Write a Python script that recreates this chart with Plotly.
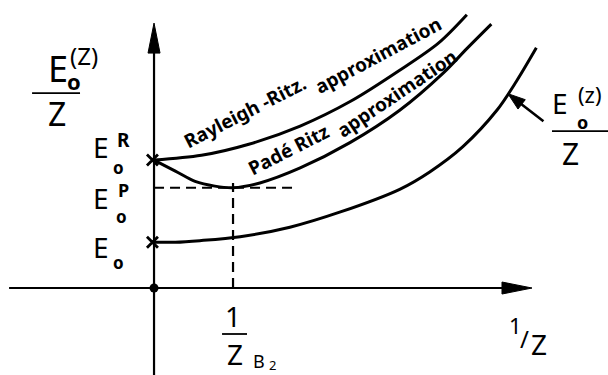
import plotly.graph_objects as go

# ---- schematic data: E/Z against 1/Z (one unit on 1/Z = 1/Z_B2) ----
inv_z_rr = [0.0, 0.6, 1.2, 1.85, 2.5, 3.1, 3.6, 3.96]
e_rr = [1.62, 1.68, 1.82, 2.05, 2.37, 2.75, 3.10, 3.46]

inv_z_pade = [0.0, 0.27, 0.52, 0.77, 1.0, 1.34, 1.85, 2.48, 3.11, 3.66, 3.96, 4.27]
e_pade = [1.62, 1.48, 1.35, 1.29, 1.27, 1.33, 1.52, 1.84, 2.25, 2.72, 3.03, 3.34]

inv_z_exact = [0.0, 0.27, 0.58, 1.09, 1.72, 2.35, 3.11, 3.49, 3.91, 4.34, 4.59, 4.84]
e_exact = [0.58, 0.58, 0.60, 0.65, 0.77, 0.96, 1.25, 1.47, 1.79, 2.25, 2.62, 3.04]

E_R = 1.62      # Rayleigh-Ritz value at 1/Z = 0
E_P = 1.27      # Pade-Ritz minimum
E_0 = 0.58      # exact limit
INV_ZB2 = 1.0   # position of the Pade minimum

X_RANGE = [-1.95, 5.747]
Y_RANGE = [-1.101, 3.646]
X_TIP = 4.785   # end of the 1/Z axis arrow
Y_TIP = 3.354   # end of the E/Z axis arrow
X_START = -1.835

FONT = "Noto Sans"
INK = "black"

fig = go.Figure()

curve_style = dict(mode="lines", line=dict(color=INK, width=3, shape="spline", smoothing=0.9),
                   hoverinfo="skip", showlegend=False)
fig.add_trace(go.Scatter(x=inv_z_rr, y=e_rr, name="Rayleigh-Ritz", **curve_style))
fig.add_trace(go.Scatter(x=inv_z_pade, y=e_pade, name="Padé Ritz", **curve_style))
fig.add_trace(go.Scatter(x=inv_z_exact, y=e_exact, name="E0(Z)/Z", **curve_style))

# axes drawn as plain lines
fig.add_shape(type="line", x0=X_START, y0=0, x1=X_TIP - 0.1, y1=0, line=dict(color=INK, width=2.2))
fig.add_shape(type="line", x0=0, y0=Y_RANGE[0], x1=0, y1=Y_TIP - 0.1, line=dict(color=INK, width=2.2))

# dashed guides to the Pade minimum
dash = "10px,6px"
fig.add_shape(type="line", x0=0, y0=E_P, x1=1.75, y1=E_P, line=dict(color=INK, width=2, dash=dash))
fig.add_shape(type="line", x0=INV_ZB2, y0=0, x1=INV_ZB2, y1=E_P + 0.06, line=dict(color=INK, width=2.2, dash=dash))


def arrow_head(tip_x, tip_y, dir_x, dir_y, length, half_width):
    """Filled triangular arrow head in data units."""
    norm = (dir_x ** 2 + dir_y ** 2) ** 0.5
    ux, uy = dir_x / norm, dir_y / norm
    bx, by = tip_x - ux * length, tip_y - uy * length
    px, py = -uy * half_width, ux * half_width
    fig.add_trace(go.Scatter(
        x=[tip_x, bx + px, bx - px, tip_x], y=[tip_y, by + py, by - py, tip_y],
        mode="lines", fill="toself", fillcolor=INK, line=dict(color=INK, width=1),
        hoverinfo="skip", showlegend=False))


arrow_head(X_TIP, 0, 1, 0, 0.38, 0.076)
arrow_head(0, Y_TIP, 0, 1, 0.38, 0.076)

# pointer to the exact curve
ptr_tail = (4.93, 2.11)
ptr_tip = (4.48, 2.46)
fig.add_shape(type="line", x0=ptr_tail[0], y0=ptr_tail[1],
              x1=ptr_tip[0] + (ptr_tail[0] - ptr_tip[0]) * 0.3,
              y1=ptr_tip[1] + (ptr_tail[1] - ptr_tip[1]) * 0.3,
              line=dict(color=INK, width=2.6))
arrow_head(ptr_tip[0], ptr_tip[1], ptr_tip[0] - ptr_tail[0], ptr_tip[1] - ptr_tail[1], 0.22, 0.075)

# crosses at the intercepts and the origin dot
fig.add_trace(go.Scatter(x=[-0.02, -0.02], y=[E_R, E_0], mode="markers",
                         marker=dict(symbol="x-thin", size=11, line=dict(color=INK, width=2.8)),
                         hoverinfo="skip", showlegend=False))
fig.add_trace(go.Scatter(x=[0], y=[0], mode="markers",
                         marker=dict(symbol="circle", size=9, color=INK),
                         hoverinfo="skip", showlegend=False))


def label(text, x, y, size, angle=0, bold=False):
    if bold:
        text = "<b>" + text + "</b>"
    fig.add_annotation(x=x, y=y, xref="x", yref="y", text=text, showarrow=False,
                       textangle=angle, xanchor="center", yanchor="middle",
                       font=dict(family=FONT, size=size, color=INK))


def frac_bar(x0, x1, y):
    fig.add_shape(type="line", x0=x0, y0=y, x1=x1, y1=y, line=dict(color=INK, width=1.8))


# vertical axis title  E_o^(Z) / Z
label("E", -1.215, 2.785, 36)
label("(Z)", -0.886, 2.949, 24)
label("o", -1.013, 2.62, 22, bold=True)
frac_bar(-1.544, -0.937, 2.468)
label("Z", -1.228, 2.203, 32)

# intercept labels
label("E", -0.671, 1.785, 28)
label("R", -0.392, 1.873, 19, bold=True)
label("o", -0.456, 1.53, 17, bold=True)

label("E", -0.671, 1.139, 28)
label("P", -0.392, 1.245, 18, bold=True)
label("o", -0.418, 0.911, 17, bold=True)

label("E", -0.671, 0.519, 28)
label("o", -0.456, 0.329, 17, bold=True)

# pointer label  E_o^(z) / Z
label("E", 5.139, 2.342, 28)
label("(z)", 5.519, 2.456, 22)
label("o", 5.418, 2.101, 18, bold=True)
frac_bar(5.038, 5.76, 1.987)
label("Z", 5.278, 1.709, 30)

# 1/Z_B2 under the dashed line
label("1", 1.0, -0.354, 28)
frac_bar(0.861, 1.177, -0.582)
label("Z", 1.025, -0.84, 28)
label("B", 1.329, -0.93, 18)
label("2", 1.50, -0.97, 13)

# horizontal axis title 1/Z
label("1", 4.570, -0.468, 22)
label("/", 4.684, -0.633, 24)
label("Z", 4.873, -0.709, 28)

# curve captions
label("Rayleigh -Ritz.", 1.152, 2.228, 19, angle=-27, bold=True)
label("approximation", 2.84, 2.955, 19, angle=-28, bold=True)
label("Padé Ritz", 1.696, 1.747, 19, angle=-27, bold=True)
label("approximation", 3.08, 2.468, 19, angle=-34, bold=True)

fig.update_layout(
    width=608, height=375,
    margin=dict(l=0, r=0, t=0, b=0),
    paper_bgcolor="white", plot_bgcolor="white",
    xaxis=dict(range=X_RANGE, visible=False, fixedrange=True),
    yaxis=dict(range=Y_RANGE, visible=False, fixedrange=True),
    showlegend=False,
)

fig.write_html("out.html")
